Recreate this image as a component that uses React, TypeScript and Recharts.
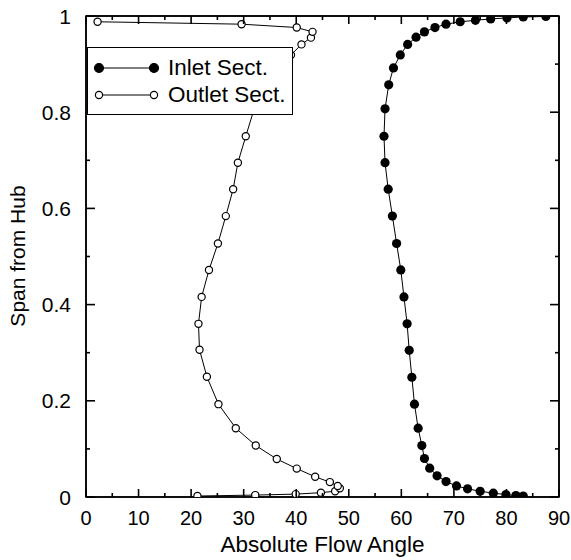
import React from "react"
import { ScatterChart, Scatter, XAxis, YAxis, Legend, ReferenceArea } from "recharts"

// span from hub vs. absolute flow angle (hub -> tip)
const inletAngle = [
  83.2, 81.8, 79.9, 77.5, 75.0, 72.6, 70.5, 68.5, 66.8, 65.4, 64.4, 63.9, 63.2, 62.5, 62.0,
  61.5, 61.1, 60.5, 59.9, 59.1, 58.3, 57.5, 56.9, 56.7, 56.9, 57.6, 58.5, 59.8, 61.2, 62.8,
  64.4, 66.4, 68.5, 71.2, 74.1, 77.0, 80.1, 83.2, 87.5,
]
const inletSpan = [
  0.002, 0.003, 0.005, 0.008, 0.012, 0.017, 0.023, 0.032, 0.044, 0.06, 0.08, 0.107, 0.143,
  0.193, 0.249, 0.305, 0.36, 0.416, 0.472, 0.527, 0.584, 0.64, 0.695, 0.75, 0.807, 0.857,
  0.892, 0.919, 0.941, 0.956, 0.967, 0.976, 0.983, 0.988, 0.991, 0.994, 0.996, 0.998, 0.999,
]
const outletAngle = [
  21.2, 32.2, 39.9, 44.7, 47.4, 48.3, 47.9, 46.4, 43.6, 40.1, 36.3, 32.3, 28.5, 25.2, 23.0,
  21.6, 21.4, 22.0, 23.4, 25.1, 26.6, 28.0, 28.9, 30.4, 32.0, 34.3, 36.8, 39.0, 41.0, 42.8,
  43.1, 40.1, 29.6, 2.2,
]
const outletSpan = [
  0.002, 0.004, 0.006, 0.009, 0.012, 0.018, 0.023, 0.031, 0.042, 0.059, 0.079, 0.107, 0.143,
  0.193, 0.25, 0.306, 0.36, 0.416, 0.472, 0.527, 0.584, 0.64, 0.695, 0.75, 0.807, 0.857,
  0.892, 0.919, 0.941, 0.955, 0.967, 0.976, 0.983, 0.988,
]

const xTicks = [0, 5, 10, 15, 20, 25, 30, 35, 40, 45, 50, 55, 60, 65, 70, 75, 80, 85, 90]
const yTicks = [0, 0.1, 0.2, 0.3, 0.4, 0.5, 0.6, 0.7, 0.8, 0.9, 1]

const inletData = inletAngle.map((x, i) => ({ x, y: inletSpan[i] }))
const outletData = outletAngle.map((x, i) => ({ x, y: outletSpan[i] }))

const FONT = "'Liberation Sans', Arial, Helvetica, sans-serif"
const isMajorX = (v: number) => v % 10 === 0
const isMajorY = (v: number) => Math.round(v * 10) % 2 === 0

// inward tick marks; x/y arrive on the axis line (tickSize 0, tickMargin 0)
const BottomTick = (props: any) => {
  const x = Number(props.x)
  const y = Number(props.y)
  const major = isMajorX(props.payload.value)
  const len = major ? 8 : 4
  return (
    <g>
      <rect x={x - 0.8} y={y - len} width={1.6} height={len} fill="#000" />
      {major && (
        <text x={x} y={y + 21} textAnchor="middle" dominantBaseline="central" fontSize={20} fontFamily={FONT} fill="#000">
          {props.payload.value}
        </text>
      )}
    </g>
  )
}

const TopTick = (props: any) => {
  const len = isMajorX(props.payload.value) ? 8 : 4
  return <rect x={Number(props.x) - 0.8} y={Number(props.y)} width={1.6} height={len} fill="#000" />
}

const LeftTick = (props: any) => {
  const x = Number(props.x)
  const y = Number(props.y)
  const major = isMajorY(props.payload.value)
  const len = major ? 9 : 4
  return (
    <g>
      <rect x={x} y={y - 0.8} width={len} height={1.6} fill="#000" />
      {major && (
        <text x={x - 15} y={y} textAnchor="end" dominantBaseline="central" fontSize={21} fontFamily={FONT} fill="#000">
          {String(props.payload.value)}
        </text>
      )}
    </g>
  )
}

const RightTick = (props: any) => {
  const len = isMajorY(props.payload.value) ? 9 : 4
  return <rect x={Number(props.x) - len} y={Number(props.y) - 0.8} width={len} height={1.6} fill="#000" />
}

const FilledDot = (props: any) => <circle cx={props.cx} cy={props.cy} r={4.6} fill="#000" />
const OpenDot = (props: any) => (
  <circle cx={props.cx} cy={props.cy} r={3.6} fill="#fff" stroke="#000" strokeWidth={1.2} />
)

const renderLegend = () => {
  const rows = [
    { name: "Inlet Sect.", fill: "#000", r: 4.5 },
    { name: "Outlet Sect.", fill: "#fff", r: 3.6 },
  ]
  return (
    <div
      style={{
        width: 206,
        height: 68,
        boxSizing: "border-box",
        border: "1.5px solid #000",
        background: "#fff",
        fontFamily: FONT,
        fontSize: 22.5,
        paddingTop: 6,
      }}
    >
      {rows.map((r) => (
        <div key={r.name} style={{ display: "flex", alignItems: "center", height: 27 }}>
          <svg width={80} height={20} style={{ flex: "none" }}>
            <line x1={11} x2={66} y1={10} y2={10} stroke="#000" strokeWidth={1.2} />
            <circle cx={11} cy={10} r={r.r} fill={r.fill} stroke="#000" strokeWidth={1.2} />
            <circle cx={66} cy={10} r={r.r} fill={r.fill} stroke="#000" strokeWidth={1.2} />
          </svg>
          <span style={{ whiteSpace: "nowrap", lineHeight: "27px" }}>{r.name}</span>
        </div>
      ))}
    </div>
  )
}

const axisLine = { stroke: "#000", strokeWidth: 1.5 }

export default function App() {
  return (
    <div style={{ position: "absolute", left: 0, top: 0, background: "#fff", fontFamily: FONT }}>
      <ScatterChart width={571} height={560} margin={{ top: 15, right: 11, left: 0, bottom: 0 }}>
        {/* plot frame */}
        <ReferenceArea x1={0} x2={90} y1={0} y2={1} fill="none" stroke="#000" strokeWidth={1.5} ifOverflow="visible" />
        <Scatter
          name="Outlet Sect."
          data={outletData}
          xAxisId="top"
          yAxisId="right"
          line={{ stroke: "#000", strokeWidth: 1 }}
          shape={OpenDot}
          isAnimationActive={false}
        />
        <Scatter
          name="Inlet Sect."
          data={inletData}
          line={{ stroke: "#000", strokeWidth: 1 }}
          shape={FilledDot}
          isAnimationActive={false}
        />
        <XAxis dataKey="x" type="number" domain={[0, 90]} allowDataOverflow ticks={xTicks} height={63} tickSize={0} tickMargin={0} tick={BottomTick} axisLine={axisLine} tickLine={false} />
        <XAxis xAxisId="top" dataKey="x" orientation="top" type="number" domain={[0, 90]} allowDataOverflow ticks={xTicks} height={1} tickSize={0} tickMargin={0} tick={TopTick} axisLine={axisLine} tickLine={false} />
        <YAxis dataKey="y" type="number" domain={[0, 1]} allowDataOverflow ticks={yTicks} width={86} tickSize={0} tickMargin={0} tick={LeftTick} axisLine={axisLine} tickLine={false} />
        <YAxis yAxisId="right" dataKey="y" orientation="right" type="number" domain={[0, 1]} allowDataOverflow ticks={yTicks} width={1} tickSize={0} tickMargin={0} tick={RightTick} axisLine={axisLine} tickLine={false} />
        <Legend
          layout="horizontal"
          align="center"
          verticalAlign="middle"
          wrapperStyle={{ left: 87, top: 47, width: 206, height: 68 }}
          content={renderLegend}
        />
      </ScatterChart>
      {/* axis titles */}
      <div
        style={{
          position: "absolute",
          left: 86,
          width: 473,
          top: 534,
          textAlign: "center",
          fontSize: 22.5,
          lineHeight: 1,
          whiteSpace: "nowrap",
          color: "#000",
        }}
      >
        Absolute Flow Angle
      </div>
      <div
        style={{
          position: "absolute",
          left: 17,
          top: 256,
          transform: "translate(-50%, -50%) rotate(-90deg)",
          fontSize: 21,
          lineHeight: 1,
          whiteSpace: "nowrap",
          color: "#000",
        }}
      >
        Span from Hub
      </div>
    </div>
  )
}
